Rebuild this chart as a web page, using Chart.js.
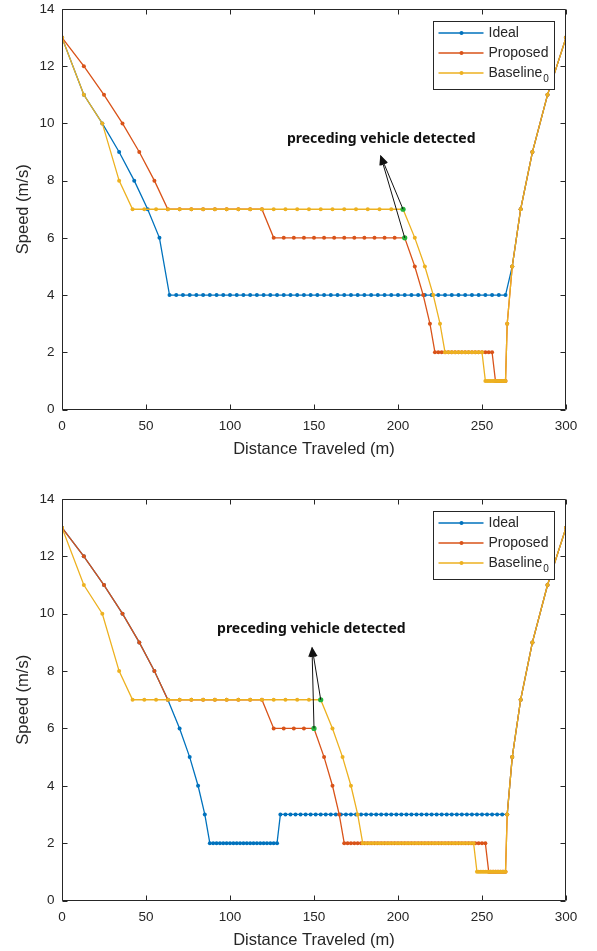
<!DOCTYPE html>
<html>
<head>
<meta charset="utf-8">
<script src="https://cdn.jsdelivr.net/npm/chart.js@4.4.0/dist/chart.umd.min.js"></script>
<style>
  body { margin: 0; background: #fff; }
  canvas { position: absolute; left: 0; }
  #top { top: 0; }
  #bottom { top: 490px; }
</style>
</head>
<body>
<canvas id="top" width="597" height="461"></canvas>
<canvas id="bottom" width="597" height="461"></canvas>
<script>
// Axis ticks
const xTicks = [0, 50, 100, 150, 200, 250, 300];
const yTicks = [0, 2, 4, 6, 8, 10, 12, 14];

// Legend labels
const seriesNames = ['Ideal', 'Proposed', 'Baseline'];

// ---- Top chart ----
const topIdealDist = [0, 13, 24, 34, 43, 51, 58,
    64, 68, 72, 76, 80, 84, 88, 92, 96, 100, 104, 108, 112, 116, 120, 124, 128, 132, 136, 140,
    144, 148, 152, 156, 160, 164, 168, 172, 176, 180, 184, 188, 192, 196, 200, 204, 208, 212,
    216, 220, 224, 228, 232, 236, 240, 244, 248, 252, 256, 260, 264,
    268, 273, 280, 289, 300];
const topIdealSpeed = [13, 11, 10, 9, 8, 7, 6,
    4, 4, 4, 4, 4, 4, 4, 4, 4, 4, 4, 4, 4, 4, 4, 4, 4, 4, 4, 4,
    4, 4, 4, 4, 4, 4, 4, 4, 4, 4, 4, 4, 4, 4, 4, 4, 4, 4,
    4, 4, 4, 4, 4, 4, 4, 4, 4, 4, 4, 4, 4,
    5, 7, 9, 11, 13];

const topProposedDist = [0, 13, 25, 36, 46, 55, 63,
    70, 77, 84, 91, 98, 105, 112, 119,
    126, 132, 138, 144, 150, 156, 162, 168, 174, 180, 186, 192, 198, 204,
    210, 215, 219, 222,
    224, 226, 228, 230, 232, 234, 236, 238, 240, 242, 244, 246, 248, 250, 252, 254, 256,
    258, 259, 260, 261, 262, 263, 264,
    265, 268, 273, 280, 289, 300];
const topProposedSpeed = [13, 12, 11, 10, 9, 8, 7,
    7, 7, 7, 7, 7, 7, 7, 7,
    6, 6, 6, 6, 6, 6, 6, 6, 6, 6, 6, 6, 6, 6,
    5, 4, 3, 2,
    2, 2, 2, 2, 2, 2, 2, 2, 2, 2, 2, 2, 2, 2, 2, 2, 2,
    1, 1, 1, 1, 1, 1, 1,
    3, 5, 7, 9, 11, 13];

const topBaselineDist = [0, 13, 24, 34,
    42, 49, 56, 63, 70, 77, 84, 91, 98, 105, 112, 119, 126, 133, 140, 147, 154, 161, 168, 175,
    182, 189, 196, 203,
    210, 216, 221, 225, 228,
    230, 232, 234, 236, 238, 240, 242, 244, 246, 248, 250,
    252, 253, 254, 255, 256, 257, 258, 259, 260, 261, 262, 263, 264,
    265, 268, 273, 280, 289, 300];
const topBaselineSpeed = [13, 11, 10, 8,
    7, 7, 7, 7, 7, 7, 7, 7, 7, 7, 7, 7, 7, 7, 7, 7, 7, 7, 7, 7,
    7, 7, 7, 7,
    6, 5, 4, 3, 2,
    2, 2, 2, 2, 2, 2, 2, 2, 2, 2, 2,
    1, 1, 1, 1, 1, 1, 1, 1, 1, 1, 1, 1, 1,
    3, 5, 7, 9, 11, 13];

const topDetectDist = [203, 204];
const topDetectSpeed = [7, 6];

// ---- Bottom chart ----
const botIdealDist = [0, 13, 25, 36, 46, 55, 63, 70, 76, 81, 85, 88,
    90, 92, 94, 96, 98, 100, 102, 104, 106, 108, 110, 112, 114, 116, 118, 120, 122, 124, 126, 128,
    130, 133, 136, 139, 142, 145, 148, 151, 154, 157, 160, 163, 166, 169, 172, 175, 178, 181,
    184, 187, 190, 193, 196, 199, 202, 205, 208, 211, 214, 217, 220, 223, 226, 229, 232, 235,
    238, 241, 244, 247, 250, 253, 256, 259, 262, 265,
    268, 273, 280, 289, 300];
const botIdealSpeed = [13, 12, 11, 10, 9, 8, 7, 6, 5, 4, 3, 2,
    2, 2, 2, 2, 2, 2, 2, 2, 2, 2, 2, 2, 2, 2, 2, 2, 2, 2, 2, 2,
    3, 3, 3, 3, 3, 3, 3, 3, 3, 3, 3, 3, 3, 3, 3, 3, 3, 3,
    3, 3, 3, 3, 3, 3, 3, 3, 3, 3, 3, 3, 3, 3, 3, 3, 3, 3,
    3, 3, 3, 3, 3, 3, 3, 3, 3, 3,
    5, 7, 9, 11, 13];

const botProposedDist = [0, 13, 25, 36, 46, 55, 63,
    70, 77, 84, 91, 98, 105, 112, 119,
    126, 132, 138, 144, 150,
    156, 161, 165, 168,
    170, 172, 174, 176, 178, 180, 182, 184, 186, 188, 190, 192, 194, 196, 198, 200, 202, 204,
    206, 208, 210, 212, 214, 216, 218, 220, 222, 224, 226, 228, 230, 232, 234, 236, 238, 240,
    242, 244, 246, 248, 250, 252,
    254, 255, 256, 257, 258, 259, 260, 261, 262, 263, 264,
    265, 268, 273, 280, 289, 300];
const botProposedSpeed = [13, 12, 11, 10, 9, 8, 7,
    7, 7, 7, 7, 7, 7, 7, 7,
    6, 6, 6, 6, 6,
    5, 4, 3, 2,
    2, 2, 2, 2, 2, 2, 2, 2, 2, 2, 2, 2, 2, 2, 2, 2, 2, 2,
    2, 2, 2, 2, 2, 2, 2, 2, 2, 2, 2, 2, 2, 2, 2, 2, 2, 2,
    2, 2, 2, 2, 2, 2,
    1, 1, 1, 1, 1, 1, 1, 1, 1, 1, 1,
    3, 5, 7, 9, 11, 13];

const botBaselineDist = [0, 13, 24, 34,
    42, 49, 56, 63, 70, 77, 84, 91, 98, 105, 112, 119, 126, 133, 140, 147, 154,
    161, 167, 172, 176, 179,
    181, 183, 185, 187, 189, 191, 193, 195, 197, 199, 201, 203, 205, 207, 209, 211, 213, 215,
    217, 219, 221, 223, 225, 227, 229, 231, 233, 235, 237, 239, 241, 243, 245,
    247, 248, 249, 250, 251, 252, 253, 254, 255, 256, 257, 258, 259, 260, 261, 262, 263, 264,
    265, 268, 273, 280, 289, 300];
const botBaselineSpeed = [13, 11, 10, 8,
    7, 7, 7, 7, 7, 7, 7, 7, 7, 7, 7, 7, 7, 7, 7, 7, 7,
    6, 5, 4, 3, 2,
    2, 2, 2, 2, 2, 2, 2, 2, 2, 2, 2, 2, 2, 2, 2, 2, 2, 2,
    2, 2, 2, 2, 2, 2, 2, 2, 2, 2, 2, 2, 2, 2, 2,
    1, 1, 1, 1, 1, 1, 1, 1, 1, 1, 1, 1, 1, 1, 1, 1, 1, 1,
    3, 5, 7, 9, 11, 13];

const botDetectDist = [154, 150];
const botDetectSpeed = [7, 6];

// Colors (MATLAB default order)
const COLORS = ['#0072BD', '#D95319', '#EDB120'];
const GREEN = '#1fb33a';
const AXIS = '#262626';
const FONT = '"Liberation Sans", Arial, sans-serif';

function toPoints(dist, speed) {
    return dist.map((d, i) => ({ x: d, y: speed[i] }));
}

function seriesDataset(label, dist, speed, color, order) {
    return {
        label,
        data: toPoints(dist, speed),
        borderColor: color,
        backgroundColor: color,
        borderWidth: 1.3,
        pointRadius: 2,
        pointBorderWidth: 0,
        pointBackgroundColor: color,
        tension: 0,
        order
    };
}

// Box around the plot with inward ticks, MATLAB style
const framePlugin = {
    id: 'frame',
    afterDatasetsDraw(chart) {
        const { ctx, chartArea: a, scales: { x, y } } = chart;
        const L = Math.round(a.left) + 0.5, R = Math.round(a.right) - 0.5;
        const T = Math.round(a.top) + 0.5, B = Math.round(a.bottom) - 0.5;
        const len = 5;
        ctx.save();
        ctx.strokeStyle = AXIS;
        ctx.lineWidth = 1;
        ctx.beginPath();
        ctx.rect(L, T, R - L, B - T);
        xTicks.forEach(v => {
            const px = Math.round(x.getPixelForValue(v)) + 0.5;
            ctx.moveTo(px, B); ctx.lineTo(px, B - len);
            ctx.moveTo(px, T); ctx.lineTo(px, T + len);
        });
        yTicks.forEach(v => {
            const py = Math.round(y.getPixelForValue(v)) + 0.5;
            ctx.moveTo(L, py); ctx.lineTo(L + len, py);
            ctx.moveTo(R, py); ctx.lineTo(R - len, py);
        });
        ctx.stroke();
        ctx.restore();
    }
};

// Legend box in the top right corner of the plot
const legendPlugin = {
    id: 'boxLegend',
    afterDraw(chart) {
        const { ctx, chartArea: a } = chart;
        const w = 121, h = 68;
        const left = Math.round(a.right - 12 - w) + 0.5;
        const top = Math.round(a.top + 12) + 0.5;
        ctx.save();
        ctx.fillStyle = '#fff';
        ctx.fillRect(left, top, w, h);
        ctx.strokeStyle = AXIS;
        ctx.lineWidth = 1;
        ctx.strokeRect(left, top, w, h);
        ctx.textBaseline = 'middle';
        seriesNames.forEach((name, i) => {
            const cy = top + 11.5 + i * 20;
            ctx.strokeStyle = COLORS[i];
            ctx.lineWidth = 1.3;
            ctx.beginPath();
            ctx.moveTo(left + 5, cy);
            ctx.lineTo(left + 50, cy);
            ctx.stroke();
            ctx.fillStyle = COLORS[i];
            ctx.beginPath();
            ctx.arc(left + 28, cy, 2, 0, Math.PI * 2);
            ctx.fill();
            ctx.fillStyle = AXIS;
            ctx.font = '14px ' + FONT;
            ctx.fillText(name, left + 55, cy);
            if (i === 2) {
                const tw = ctx.measureText(name).width;
                ctx.font = '10px ' + FONT;
                ctx.fillText('0', left + 56 + tw, cy + 6);
            }
        });
        ctx.restore();
    }
};

// Text label with arrows pointing from the detection points
const notePlugin = {
    id: 'note',
    afterDraw(chart, args, opts) {
        if (!opts.text) return;
        const { ctx, scales: { x, y } } = chart;
        const tipX = x.getPixelForValue(opts.tip[0]);
        const tipY = y.getPixelForValue(opts.tip[1]);
        ctx.save();
        ctx.strokeStyle = '#111';
        ctx.fillStyle = '#111';
        ctx.lineWidth = 1;
        opts.from.forEach(p => {
            const fx = x.getPixelForValue(p[0]);
            const fy = y.getPixelForValue(p[1]);
            const ang = Math.atan2(tipY - fy, tipX - fx);
            const hl = 10, hw = 4;
            const bx = tipX - hl * Math.cos(ang), by = tipY - hl * Math.sin(ang);
            ctx.beginPath();
            ctx.moveTo(fx, fy);
            ctx.lineTo(bx, by);
            ctx.stroke();
            ctx.beginPath();
            ctx.moveTo(tipX, tipY);
            ctx.lineTo(bx + hw * Math.sin(ang), by - hw * Math.cos(ang));
            ctx.lineTo(bx - hw * Math.sin(ang), by + hw * Math.cos(ang));
            ctx.closePath();
            ctx.fill();
        });
        ctx.font = 'bold 14px "Noto Sans", "Noto Sans CJK SC", sans-serif';
        ctx.textAlign = 'center';
        ctx.textBaseline = 'middle';
        ctx.fillText(opts.text, x.getPixelForValue(opts.at[0]), y.getPixelForValue(opts.at[1]));
        ctx.restore();
    }
};

function makeChart(id, series, detect, note, axisHeight, titlePad) {
    const datasets = [
        {
            label: 'detect',
            data: toPoints(detect[0], detect[1]),
            showLine: false,
            pointRadius: 2.6,
            pointBorderWidth: 0,
            pointBackgroundColor: GREEN,
            order: 0
        },
        seriesDataset(seriesNames[2], series[2][0], series[2][1], COLORS[2], 1),
        seriesDataset(seriesNames[1], series[1][0], series[1][1], COLORS[1], 2),
        seriesDataset(seriesNames[0], series[0][0], series[0][1], COLORS[0], 3)
    ];
    return new Chart(document.getElementById(id), {
        type: 'line',
        data: { datasets },
        options: {
            responsive: false,
            animation: false,
            devicePixelRatio: 1,
            layout: { padding: { top: 9, right: 31, left: 0, bottom: 0 } },
            plugins: {
                legend: { display: false },
                tooltip: { enabled: false },
                note
            },
            scales: {
                x: {
                    type: 'linear',
                    min: 0,
                    max: 300,
                    afterFit: s => { s.height = axisHeight; s.paddingLeft = 0; s.paddingRight = 0; },
                    afterBuildTicks: s => { s.ticks = xTicks.map(v => ({ value: v })); },
                    grid: { display: false, drawTicks: false },
                    border: { display: false },
                    ticks: { padding: 9, color: AXIS, font: { family: FONT, size: 13.5 }, maxRotation: 0 },
                    title: {
                        display: true,
                        text: 'Distance Traveled (m)',
                        color: AXIS,
                        font: { family: FONT, size: 16.5 },
                        padding: { top: 0, bottom: titlePad }
                    }
                },
                y: {
                    min: 0,
                    max: 14,
                    afterFit: s => { s.width = 62; s.paddingTop = 0; s.paddingBottom = 0; },
                    afterBuildTicks: s => { s.ticks = yTicks.map(v => ({ value: v })); },
                    grid: { display: false, drawTicks: false },
                    border: { display: false },
                    ticks: { padding: 7.5, color: AXIS, font: { family: FONT, size: 13.5 } },
                    title: {
                        display: true,
                        text: 'Speed (m/s)',
                        color: AXIS,
                        font: { family: FONT, size: 16.5 },
                        padding: { top: 14, bottom: 0 }
                    }
                }
            }
        },
        plugins: [framePlugin, legendPlugin, notePlugin]
    });
}

makeChart('top',
    [[topIdealDist, topIdealSpeed], [topProposedDist, topProposedSpeed], [topBaselineDist, topBaselineSpeed]],
    [topDetectDist, topDetectSpeed],
    { text: 'preceding vehicle detected', at: [190, 9.45], tip: [189.5, 8.9], from: [[203, 7], [204, 6]] },
    51.5, 2);

makeChart('bottom',
    [[botIdealDist, botIdealSpeed], [botProposedDist, botProposedSpeed], [botBaselineDist, botBaselineSpeed]],
    [botDetectDist, botDetectSpeed],
    { text: 'preceding vehicle detected', at: [148.4, 9.45], tip: [148.8, 8.85], from: [[154, 7], [150, 6]] },
    50.5, 0.5);
</script>
</body>
</html>
